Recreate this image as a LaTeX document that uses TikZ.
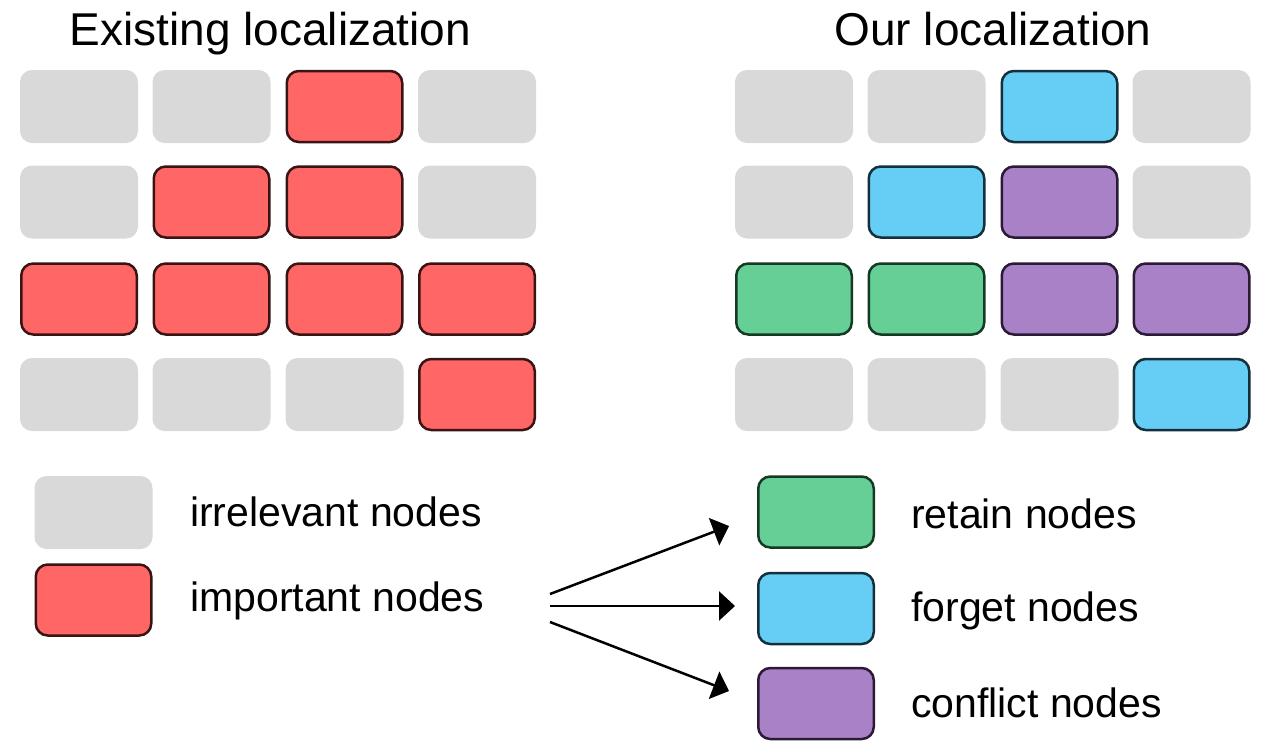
\documentclass[tikz,border=0pt]{standalone}
\usepackage{fontspec}
\setmainfont{Liberation Sans}
\usetikzlibrary{arrows.meta}
\definecolor{cgray}{HTML}{D9D9D9}
\definecolor{cred}{HTML}{FF6666}
\definecolor{cgreen}{HTML}{66CF96}
\definecolor{cblue}{HTML}{66CDF5}
\definecolor{cpurple}{HTML}{A881C6}
\definecolor{redge}{HTML}{3A1414}
\definecolor{gedge}{HTML}{143A24}
\definecolor{bedge}{HTML}{14303C}
\definecolor{pedge}{HTML}{2A1A36}
\begin{document}
\begin{tikzpicture}[x=1pt,y=-1pt,
  box/.style={rounded corners=12pt,inner sep=0pt,minimum width=115.5pt,minimum height=71pt},
  irr/.style={box,fill=cgray,minimum width=118pt,minimum height=73pt},
  imp/.style={box,fill=cred,draw=redge,line width=2.5pt},
  ret/.style={box,fill=cgreen,draw=gedge,line width=2.5pt},
  fgt/.style={box,fill=cblue,draw=bedge,line width=2.5pt},
  cfl/.style={box,fill=cpurple,draw=pedge,line width=2.5pt},
  title/.style={font=\fontsize{46}{50}\selectfont,anchor=base,inner sep=0pt},
  legtext/.style={font=\fontsize{41}{45}\selectfont,anchor=base west,inner sep=0pt},
  arr/.style={line width=2.5pt,-{Triangle[length=16pt,width=29pt]}}]
\useasboundingbox (0,0) rectangle (1263,740);
% titles
\node[title] (t1) at (270.5,45) {Existing localization};
\node[title] (t2) at (993,45) {Our localization};
% left grid
\node[irr] (l11) at (79,106.5) {};
\node[irr] (l12) at (211.5,106.5) {};
\node[imp] (l13) at (344.5,106.5) {};
\node[irr] (l14) at (477,106.5) {};
\node[irr] (l21) at (79,202) {};
\node[imp] (l22) at (211.5,202) {};
\node[imp] (l23) at (344.5,202) {};
\node[irr] (l24) at (477,202) {};
\node[imp] (l31) at (79,299) {};
\node[imp] (l32) at (211.5,299) {};
\node[imp] (l33) at (344.5,299) {};
\node[imp] (l34) at (477,299) {};
\node[irr] (l41) at (79,394.5) {};
\node[irr] (l42) at (211.5,394.5) {};
\node[irr] (l43) at (344.5,394.5) {};
\node[imp] (l44) at (477,394.5) {};
% right grid
\node[irr] (r11) at (794,106.5) {};
\node[irr] (r12) at (926.5,106.5) {};
\node[fgt] (r13) at (1059.5,106.5) {};
\node[irr] (r14) at (1191.5,106.5) {};
\node[irr] (r21) at (794,202) {};
\node[fgt] (r22) at (926.5,202) {};
\node[cfl] (r23) at (1059.5,202) {};
\node[irr] (r24) at (1191.5,202) {};
\node[ret] (r31) at (794,299) {};
\node[ret] (r32) at (926.5,299) {};
\node[cfl] (r33) at (1059.5,299) {};
\node[cfl] (r34) at (1191.5,299) {};
\node[irr] (r41) at (794,394.5) {};
\node[irr] (r42) at (926.5,394.5) {};
\node[irr] (r43) at (1059.5,394.5) {};
\node[fgt] (r44) at (1191.5,394.5) {};
% legend left
\node[irr] (lgIrr) at (93.5,512.5) {};
\node[imp] (lgImp) at (93.5,600) {};
\node[legtext] (txIrr) at (190,526) {irrelevant nodes};
\node[legtext] (txImp) at (190,611) {important nodes};
% legend right
\node[ret] (lgRet) at (816,512) {};
\node[fgt] (lgFgt) at (816,608.5) {};
\node[cfl] (lgCfl) at (816,703.5) {};
\node[legtext] (txRet) at (911,528) {retain nodes};
\node[legtext] (txFgt) at (911,621) {forget nodes};
\node[legtext] (txCfl) at (911,717) {conflict nodes};
% arrows
\coordinate (s1) at (550,594);
\coordinate (s2) at (550,606);
\coordinate (s3) at (550,622);
\coordinate (e1) at (729,526);
\coordinate (e2) at (735,606);
\coordinate (e3) at (729,691);
\draw[arr] (s1) -- (e1);
\draw[arr] (s2) -- (e2);
\draw[arr] (s3) -- (e3);
\end{tikzpicture}
\end{document}
